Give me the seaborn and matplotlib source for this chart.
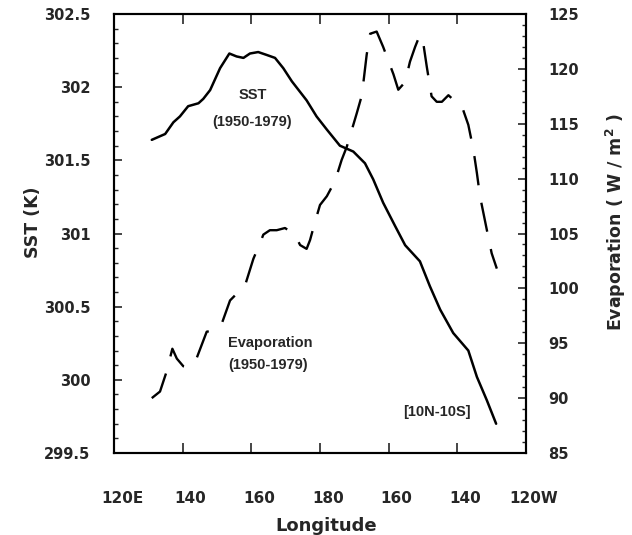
import numpy as np
import pandas as pd
import matplotlib
matplotlib.use("Agg")
import matplotlib.pyplot as plt
import matplotlib.transforms as mtransforms
from matplotlib.ticker import MultipleLocator
import seaborn as sns

# ---- data (longitude in degrees east) ----
lon_sst = [131.0, 134.9, 137.3, 139.2, 141.6, 144.6, 146.0, 148.0, 150.9, 153.6,
           155.7, 157.7, 159.6, 162.0, 164.5, 166.9, 169.3, 171.8, 176.1, 179.0,
           182.0, 185.8, 189.7, 193.1, 195.5, 198.4, 201.9, 204.8, 209.1, 212.0,
           215.0, 218.8, 223.2, 225.7, 228.6, 231.3]
sst = [301.64, 301.68, 301.76, 301.80, 301.87, 301.89, 301.92, 301.98, 302.13, 302.23,
       302.21, 302.20, 302.23, 302.24, 302.22, 302.20, 302.13, 302.04, 301.91, 301.80,
       301.71, 301.60, 301.56, 301.48, 301.37, 301.21, 301.05, 300.92, 300.81, 300.64,
       300.48, 300.32, 300.20, 300.02, 299.86, 299.70]

lon_evap = [131.0, 133.4, 135.3, 137.0, 138.3, 140.2, 141.5, 143.9, 147.0, 149.5,
            150.4, 151.4, 153.8, 158.2, 160.6, 162.5, 163.5, 165.4, 167.4, 169.8,
            172.7, 174.2, 176.1, 177.1, 178.5, 180.0, 182.0, 184.4, 186.3, 187.8,
            190.7, 192.2, 193.6, 194.6, 196.5, 198.4, 201.4, 202.8, 204.8, 206.2,
            207.7, 209.1, 210.1, 211.1, 212.5, 214.0, 215.5, 217.4, 218.8, 221.3,
            221.7, 223.2, 224.7, 225.7, 226.6, 229.0, 230.0, 231.5]
evap = [90.0, 90.6, 92.4, 94.5, 93.6, 92.9, 92.8, 93.5, 96.05, 96.2,
        96.4, 96.8, 98.9, 100.3, 102.7, 104.1, 104.9, 105.3, 105.3, 105.5,
        104.9, 103.95, 103.6, 104.4, 106.0, 107.6, 108.4, 109.8, 111.7, 112.9,
        115.95, 117.6, 121.3, 123.2, 123.4, 122.0, 119.5, 118.1, 118.8, 120.65,
        122.0, 123.1, 122.3, 120.2, 117.5, 117.0, 117.0, 117.6, 117.2, 116.6,
        116.25, 114.9, 112.6, 110.5, 108.4, 104.7, 103.2, 101.8]

x_ticks = [120, 140, 160, 180, 200, 220, 240]
x_tick_labels = ["120E", "140", "160", "180", "160", "140", "120W"]
sst_ticks = [299.5, 300, 300.5, 301, 301.5, 302, 302.5]
sst_tick_labels = ["299.5", "300", "300.5", "301", "301.5", "302", "302.5"]
evap_ticks = [85, 90, 95, 100, 105, 110, 115, 120, 125]
evap_tick_labels = ["85", "90", "95", "100", "105", "110", "115", "120", "125"]

sns.set_style("ticks")
plt.rcParams['font.family'] = ['DejaVu Sans']

fig = plt.figure(figsize=(6.32, 5.35), dpi=100)
fig.patch.set_facecolor("white")
ax = fig.add_axes([0.18038, 0.15327, 0.65190, 0.82056])

df_sst = pd.DataFrame({"lon": lon_sst, "sst": sst})
sns.lineplot(data=df_sst, x="lon", y="sst", ax=ax, color="black", linewidth=1.8,
             estimator=None, sort=False)

ax2 = ax.twinx()
df_ev = pd.DataFrame({"lon": lon_evap, "evap": evap})
sns.lineplot(data=df_ev, x="lon", y="evap", ax=ax2, color="black", linewidth=1.7,
             estimator=None, sort=False)
ax2.lines[0].set_dashes([12.5, 7.5])

ax.set_xlim(120, 240)
ax.set_ylim(299.5, 302.5)
ax2.set_ylim(85, 125)

# x ticks
ax.set_xticks(x_ticks)
ax.set_xticklabels(x_tick_labels, fontsize=11, fontweight="bold")
ax.tick_params(axis="x", which="major", direction="in", length=7, width=1.2,
               top=True, bottom=True, pad=27)
offset = mtransforms.ScaledTranslation(8 / 100, 0, fig.dpi_scale_trans)
for lbl in ax.get_xticklabels():
    lbl.set_transform(lbl.get_transform() + offset)

# left y ticks
ax.set_yticks(sst_ticks)
ax.set_yticklabels(sst_tick_labels, fontsize=10.5, fontweight="bold")
ax.yaxis.set_minor_locator(MultipleLocator(0.1))
ax.tick_params(axis="y", which="major", direction="in", length=5.5, width=1.2,
               left=True, right=False, pad=17)
ax.tick_params(axis="y", which="minor", direction="in", length=3, width=1.0,
               left=True, right=False)

# right y ticks
ax2.set_yticks(evap_ticks)
ax2.set_yticklabels(evap_tick_labels, fontsize=10.5, fontweight="bold")
ax2.yaxis.set_minor_locator(MultipleLocator(1))
ax2.tick_params(axis="y", which="major", direction="in", length=6, width=1.2,
                right=True, left=False, pad=16)
ax2.tick_params(axis="y", which="minor", direction="in", length=3, width=1.0,
                right=True, left=False)

for a in (ax, ax2):
    for sp in a.spines.values():
        sp.set_visible(True)
        sp.set_linewidth(1.5)
        sp.set_color("black")

# axis labels
ax.set_xlabel("Longitude", fontsize=13, fontweight="bold")
ax.xaxis.set_label_coords(0.516, -0.145)
ax.set_ylabel("SST (K)", fontsize=12.5, fontweight="bold")
ax.yaxis.set_label_coords(-0.175, 0.526)
ax2.set_ylabel("Evaporation ( W / m$^\\mathbf{2}$ )", fontsize=12.5, fontweight="bold")
ax2.yaxis.set_label_coords(1.19, 0.526)

# annotations
ann = dict(transform=ax.transAxes, ha="center", va="center",
           fontsize=10.5, fontweight="bold", family=["Liberation Sans", "DejaVu Sans"])
ax.text(0.3366, 0.8155, "SST", **ann)
ax.text(0.334, 0.7547, "(1950-1979)", **ann)
ax.text(0.3786, 0.2499, "Evaporation", **ann)
ax.text(0.3745, 0.2005, "(1950-1979)", **ann)
ax.text(0.7833, 0.0941, "[10N-10S]", **ann)

fig.savefig("out.png", dpi=100, facecolor="white")
